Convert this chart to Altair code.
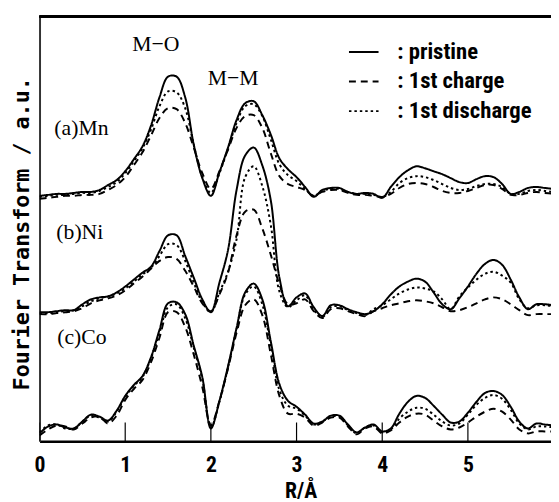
import altair as alt
import pandas as pd

# ---------------- data (R in Angstrom, amplitude in a.u. incl. panel offset) ----------------
R = [round(i * 0.1, 1) for i in range(61)]

mn_pristine = [249,250,251,251,252,253,253,255,260,265,
               274,286,299,320,349,370,370,349,301,267,
               249,273,298,326,343,345,331,311,287,276,
               268,258,248,255,257,257,253,251,252,251,
               247,258,268,275,279,277,274,271,267,263,
               262,266,269,268,261,251,253,257,258,257,
               256]
mn_discharge = [248,249,250,250,251,252,252,254,258,263,
                272,284,297,316,340,355,354,338,301,268,
                252,272,297,323,340,342,330,306,281,270,
                264,256,249,254,256,256,253,251,251,250,
                248,253,262,267,269,268,265,261,257,255,
                256,259,261,261,258,251,251,254,255,254,
                253]
mn_charge = [246,247,248,249,249,250,250,251,255,260,
             268,280,293,310,328,338,337,323,298,272,
             256,274,296,318,330,331,318,292,269,261,
             258,255,249,253,255,255,252,250,250,249,
             248,251,257,261,262,261,258,254,252,252,
             254,257,260,260,256,250,250,252,253,252,
             251]

ni_pristine = [131,131,132,133,133,139,144,146,147,151,
               157,164,171,177,193,209,209,188,166,144,
               131,161,194,255,290,298,280,244,166,137,
               146,150,136,127,138,138,134,131,129,132,
               139,149,157,162,165,162,151,139,134,145,
               157,170,180,184,179,164,146,134,139,139,
               138]
ni_discharge = [130,130,131,132,133,137,142,145,147,150,
                155,162,169,176,188,200,199,183,161,141,
                131,151,172,205,268,279,259,219,152,136,
                143,148,133,126,136,137,133,130,128,134,
                138,144,150,154,156,155,152,144,134,147,
                156,164,170,172,168,161,144,135,138,138,
                137]
ni_charge = [129,129,130,131,132,135,140,143,145,148,
             153,160,167,175,183,187,185,173,157,140,
             132,149,171,209,233,235,216,189,159,139,
             140,144,132,125,134,135,132,129,127,132,
             135,138,140,142,143,142,140,136,132,133,
             136,140,144,146,144,139,133,128,129,129,
             129]

co_pristine = [8,15,17,14,13,20,27,25,21,31,
               46,57,66,85,113,140,141,129,97,65,
               13,41,76,115,151,160,144,101,58,41,
               35,27,18,20,26,26,17,9,14,17,
               10,13,28,40,46,44,36,27,19,20,
               29,40,49,51,47,35,20,13,18,17,
               16]
co_discharge = [9,16,17,13,13,20,26,24,20,30,
                45,56,65,84,110,136,139,125,95,63,
                14,40,75,114,149,157,139,97,52,36,
                33,26,17,20,25,25,16,8,14,16,
                9,12,23,30,34,33,27,20,16,18,
                27,37,44,47,43,32,18,12,15,15,
                14]
co_charge = [6,12,16,15,12,18,24,25,18,26,
             42,53,62,80,105,131,131,116,88,55,
             16,41,74,110,138,144,128,88,46,28,
             28,24,16,19,24,24,15,7,13,15,
             8,11,19,25,28,27,21,15,12,14,
             19,25,30,33,30,22,12,8,10,10,
             10]

states = ["pristine", "1st charge", "1st discharge"]
dashes = [[1, 0], [7, 5], [2.5, 3]]
x_ticks = [0, 1, 2, 3, 4, 5, 6]

peak_labels = ["M\u2212O", "M\u2212M"]
peak_x = [1.357, 2.26]
peak_y = [396, 362]
panel_labels = ["(a)Mn", "(b)Ni", "(c)Co"]
panel_x = [0.173, 0.196, 0.207]
panel_y = [311, 205, 99]

series = {
    ("Mn", "pristine"): mn_pristine, ("Mn", "1st charge"): mn_charge, ("Mn", "1st discharge"): mn_discharge,
    ("Ni", "pristine"): ni_pristine, ("Ni", "1st charge"): ni_charge, ("Ni", "1st discharge"): ni_discharge,
    ("Co", "pristine"): co_pristine, ("Co", "1st charge"): co_charge, ("Co", "1st discharge"): co_discharge,
}
rows = []
for (sample, state), vals in series.items():
    for r, v in zip(R, vals):
        rows.append({"R": r, "amp": v, "sample": sample, "state": state})
df = pd.DataFrame(rows)

COND = "Roboto Condensed, Roboto, Liberation Sans, sans-serif"
SERIF = "Liberation Serif, Times New Roman, serif"

W, H = 519, 431
xs = alt.Scale(domain=[0, 5.97], nice=False, zero=False)
ys = alt.Scale(domain=[0, 431], nice=False, zero=False)

lines = alt.Chart(df).mark_line(color="black", strokeWidth=2, clip=True, interpolate="catmull-rom").encode(
    x=alt.X("R:Q", scale=xs,
            axis=alt.Axis(values=x_ticks, format="d", ticks=False, grid=False, labelFont=COND,
                          labelFontWeight="bold", labelFontSize=22, labelColor="black", labelPadding=14,
                          labelFlush=False, labelOverlap=False, domainColor="black", domainWidth=2.5,
                          title="R/\u00c5", titleFont=COND, titleFontWeight="bold", titleFontSize=22,
                          titleColor="black", titleX=265, titleY=57, titleAlign="center",
                          titleBaseline="alphabetic")),
    y=alt.Y("amp:Q", scale=ys,
            axis=alt.Axis(ticks=False, labels=False, grid=False, domainColor="#333", domainWidth=2,
                          title="Fourier Transform / a.u.", titleFont="DejaVu Sans Mono",
                          titleFontWeight="bold", titleFontSize=22, titleColor="black", titleAngle=270,
                          titleX=-18, titleY=220, titleAlign="center", titleBaseline="middle")),
    strokeDash=alt.StrokeDash("state:N", scale=alt.Scale(domain=states, range=dashes), sort=states,
                              legend=alt.Legend(title=None, orient="none", legendX=313, legendY=20,
                                                symbolType="stroke", symbolSize=900, symbolStrokeWidth=2,
                                                symbolStrokeColor="black", labelFont=COND,
                                                labelFontWeight="bold", labelFontSize=23, labelColor="black",
                                                labelOffset=18, rowPadding=2, padding=0, labelLimit=300,
                                                labelExpr="':  ' + datum.label")),
    detail="sample:N",
    order="R:Q",
)

ticks_df = pd.DataFrame({"t": x_ticks})
ticks = alt.Chart(ticks_df).mark_rule(color="black", strokeWidth=1.2, clip=True).encode(
    x=alt.X("t:Q", scale=xs), y=alt.datum(0), y2=alt.datum(19)
)

top = alt.Chart(ticks_df).mark_rule(color="black", strokeWidth=2).encode(
    x=alt.value(0), x2=alt.value(W), y=alt.value(0)
)

peaks = alt.Chart(pd.DataFrame({"x": peak_x, "y": peak_y, "t": peak_labels})).mark_text(
    font=SERIF, fontSize=22, color="black", align="center", baseline="alphabetic"
).encode(x=alt.X("x:Q", scale=xs), y=alt.Y("y:Q", scale=ys), text="t:N")

panels = alt.Chart(pd.DataFrame({"x": panel_x, "y": panel_y, "t": panel_labels})).mark_text(
    font=SERIF, fontSize=22, color="black", align="left", baseline="alphabetic"
).encode(x=alt.X("x:Q", scale=xs), y=alt.Y("y:Q", scale=ys), text="t:N")

chart = alt.layer(lines, ticks, top, peaks, panels).properties(
    width=W, height=H,
    autosize=alt.AutoSizeParams(type="none"),
    padding={"left": 32, "top": 5, "right": 0, "bottom": 58},
    background="white",
).configure_view(strokeWidth=0)

chart.save("out.html", embed_options={"renderer": "svg", "actions": False})
